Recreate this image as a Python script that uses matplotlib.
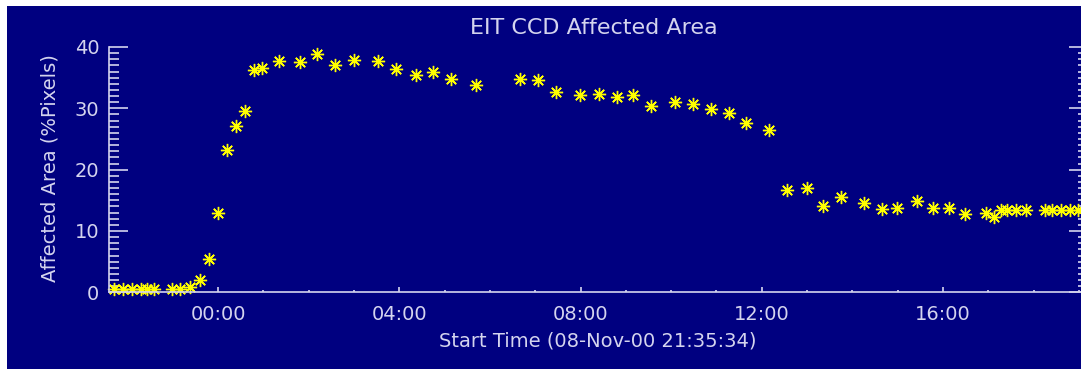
import matplotlib
matplotlib.use("Agg")
import matplotlib.pyplot as plt
from matplotlib.patches import Rectangle
from matplotlib.ticker import FixedLocator, MultipleLocator, FuncFormatter

# hours relative to 00:00 on 09-Nov-00 (start 08-Nov-00 21:35:34)
hours = [-2.29, -2.09, -1.89, -1.69, -1.56, -1.41, -1.01, -0.83, -0.63, -0.39,
         -0.19, 0.00, 0.20, 0.40, 0.60, 0.79, 0.98, 1.35, 1.80, 2.19,
         2.59, 3.01, 3.52, 3.93, 4.36, 4.75, 5.14, 5.70, 6.67, 7.06,
         7.45, 7.98, 8.41, 8.80, 9.16, 9.55, 10.09, 10.49, 10.88, 11.27,
         11.66, 12.17, 12.56, 12.99, 13.35, 13.74, 14.25, 14.65, 14.98, 15.43,
         15.77, 16.13, 16.48, 16.94, 17.13, 17.28, 17.42, 17.60, 17.83, 18.26,
         18.41, 18.60, 18.80, 18.97]
area = [0.6, 0.6, 0.6, 0.6, 0.5, 0.5, 0.5, 0.5, 0.8, 2.0,
        5.4, 12.9, 23.2, 27.1, 29.6, 36.3, 36.5, 37.7, 37.5, 38.8,
        37.1, 37.9, 37.7, 36.4, 35.4, 35.9, 34.8, 33.8, 34.8, 34.6,
        32.7, 32.1, 32.3, 31.9, 32.1, 30.4, 31.1, 30.7, 29.9, 29.3,
        27.6, 26.5, 16.7, 17.0, 14.0, 15.5, 14.5, 13.6, 13.8, 14.9,
        13.8, 13.8, 12.8, 13.0, 12.3, 13.4, 13.4, 13.4, 13.4, 13.4,
        13.4, 13.4, 13.4, 13.4]
major_hours = [0, 4, 8, 12, 16]
start_hour = -(2 + 24 / 60 + 26 / 3600)

navy = "#000080"
fg = "#d4d4ee"
W, H = 1081, 369

fig = plt.figure(figsize=(W / 100, H / 100), dpi=100, facecolor="white")
fig.patches.append(Rectangle((7 / W, 0), 1, 363 / H, transform=fig.transFigure,
                             facecolor=navy, edgecolor="none", zorder=-10))

# right spine sits just outside the picture, as in the reference
left_px, right_px, top_px, bot_px = 109, 1088, 47, 292.3
ax = fig.add_axes([left_px / W, (H - bot_px) / H, (right_px - left_px) / W,
                   (bot_px - top_px) / H])
ax.set_facecolor(navy)
px_per_hr = 45.31
ax.set_xlim(start_hour, start_hour + (right_px - left_px) / px_per_hr)
ax.set_ylim(0, 40)

ax.plot(hours, area, linestyle="none", marker=(8, 2, 0), markersize=9.5,
        markeredgewidth=1.0, color="#ffff00", clip_on=False)
ax.plot(hours, area, linestyle="none", marker="o", markersize=3.0,
        color="#ffff00", markeredgewidth=0, clip_on=False)

ax.spines["top"].set_visible(False)
for s in ["left", "right", "bottom"]:
    ax.spines[s].set_color(fg)
    ax.spines[s].set_linewidth(1.2)

ax.xaxis.set_major_locator(FixedLocator(major_hours))
ax.xaxis.set_minor_locator(MultipleLocator(1))
ax.xaxis.set_major_formatter(FuncFormatter(lambda v, p: "%02d:00" % (int(round(v)) % 24)))
ax.yaxis.set_major_locator(MultipleLocator(10))
ax.yaxis.set_minor_locator(MultipleLocator(1))

ax.tick_params(axis="x", which="major", direction="in", length=3.6, width=1.2,
               color=fg, labelcolor=fg, labelsize=14, pad=9, top=False)
ax.tick_params(axis="x", which="minor", direction="in", length=1.8, width=1.2,
               color=fg, top=False)
ax.tick_params(axis="y", which="major", direction="in", length=14, width=1.2,
               color=fg, labelcolor=fg, labelsize=14, pad=7, right=True)
ax.tick_params(axis="y", which="minor", direction="in", length=7, width=1.2,
               color=fg, right=True)

fig.text(594 / W, 1 - 28 / H, "EIT CCD Affected Area", color=fg, fontsize=16,
         ha="center", va="center")
fig.text(598 / W, 1 - 341 / H, "Start Time (08-Nov-00 21:35:34)", color=fg,
         fontsize=14, ha="center", va="center")
fig.text(50 / W, 1 - 168 / H, "Affected Area (%Pixels)", color=fg, fontsize=14,
         ha="center", va="center", rotation=90)

fig.savefig("out.png", dpi=100, facecolor="white")
